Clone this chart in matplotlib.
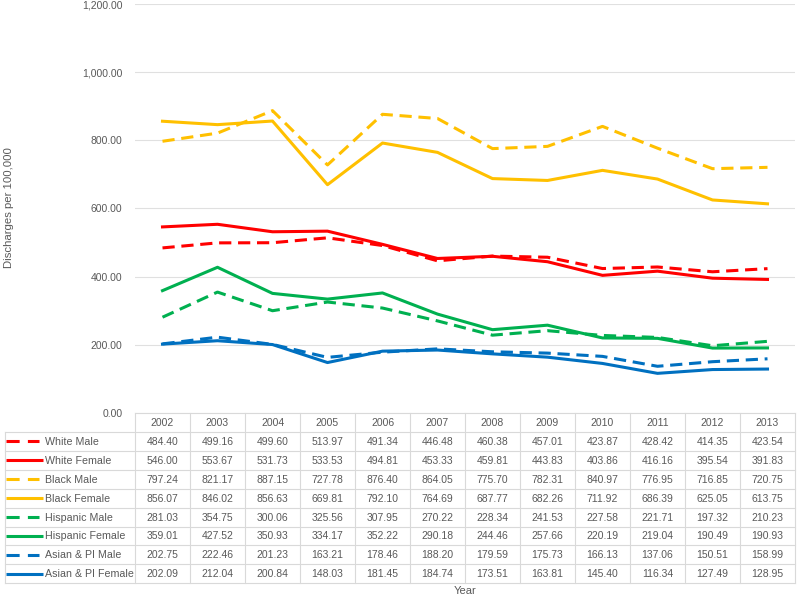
import matplotlib
matplotlib.use("Agg")
import matplotlib.pyplot as plt
from matplotlib.lines import Line2D

years = [2002, 2003, 2004, 2005, 2006, 2007, 2008, 2009, 2010, 2011, 2012, 2013]
series_names = ["White Male", "White Female", "Black Male", "Black Female",
                "Hispanic Male", "Hispanic Female", "Asian & PI Male", "Asian & PI Female"]
white_male = [484.40, 499.16, 499.60, 513.97, 491.34, 446.48, 460.38, 457.01, 423.87, 428.42, 414.35, 423.54]
white_female = [546.00, 553.67, 531.73, 533.53, 494.81, 453.33, 459.81, 443.83, 403.86, 416.16, 395.54, 391.83]
black_male = [797.24, 821.17, 887.15, 727.78, 876.40, 864.05, 775.70, 782.31, 840.97, 776.95, 716.85, 720.75]
black_female = [856.07, 846.02, 856.63, 669.81, 792.10, 764.69, 687.77, 682.26, 711.92, 686.39, 625.05, 613.75]
hispanic_male = [281.03, 354.75, 300.06, 325.56, 307.95, 270.22, 228.34, 241.53, 227.58, 221.71, 197.32, 210.23]
hispanic_female = [359.01, 427.52, 350.93, 334.17, 352.22, 290.18, 244.46, 257.66, 220.19, 219.04, 190.49, 190.93]
asian_male = [202.75, 222.46, 201.23, 163.21, 178.46, 188.20, 179.59, 175.73, 166.13, 137.06, 150.51, 158.99]
asian_female = [202.09, 212.04, 200.84, 148.03, 181.45, 184.74, 173.51, 163.81, 145.40, 116.34, 127.49, 128.95]
series_values = [white_male, white_female, black_male, black_female,
                 hispanic_male, hispanic_female, asian_male, asian_female]
colors = ["#FF0000", "#FF0000", "#FFC000", "#FFC000", "#00B050", "#00B050", "#0070C0", "#0070C0"]
dashed = [True, False, True, False, True, False, True, False]
yticks = [0, 200, 400, 600, 800, 1000, 1200]

W, H = 800, 599
TXT = "#595959"
GRID = "#D9D9D9"
FONT = "Liberation Sans"
plt.rcParams['font.family'] = [FONT, 'DejaVu Sans']

fig = plt.figure(figsize=(W / 100, H / 100), dpi=100)

# pixel geometry
ax_l, ax_r, ax_t, ax_b = 135, 795, 4, 413
ax = fig.add_axes([ax_l / W, 1 - ax_b / H, (ax_r - ax_l) / W, (ax_b - ax_t) / H])
n = len(years)
x = list(range(n))
for vals, c, d in zip(series_values, colors, dashed):
    if d:
        ax.plot(x, vals, color=c, lw=2.2, linestyle=(0, (4, 2.2)), solid_capstyle='butt', zorder=3)
    else:
        ax.plot(x, vals, color=c, lw=2.2, zorder=3)
ax.set_xlim(-0.5, n - 0.5)
ax.set_ylim(0, 1200)
ax.set_yticks(yticks)
ax.set_yticklabels([f"{v:,.2f}" for v in yticks], color=TXT, fontsize=7.5)
ax.tick_params(axis='y', length=0, pad=9)
ax.set_xticks([])
ax.grid(axis='y', color="#E0E0E0", lw=0.8)
ax.set_axisbelow(True)
for s in ax.spines.values():
    s.set_visible(False)

# table overlay in pixel coords
tax = fig.add_axes([0, 0, 1, 1])
tax.set_xlim(0, W)
tax.set_ylim(H, 0)
tax.axis('off')

tax.text(9, 208, "Discharges per 100,000", rotation=90, ha='center', va='center',
         color=TXT, fontsize=8.2)

leg_l = 5
col_w = (ax_r - ax_l) / n
hdr_t, hdr_b = 413, 432
row_h = 18.9
n_rows = len(series_names)
tbl_b = hdr_b + n_rows * row_h

lw_b = 0.8
tax.plot([ax_l, ax_r], [hdr_t, hdr_t], color=GRID, lw=lw_b)
for i in range(n + 1):
    xx = ax_l + i * col_w
    tax.plot([xx, xx], [hdr_t, tbl_b], color=GRID, lw=lw_b)
tax.plot([leg_l, leg_l], [hdr_b, tbl_b], color=GRID, lw=lw_b)
for r in range(n_rows + 1):
    yy = hdr_b + r * row_h
    tax.plot([leg_l, ax_r], [yy, yy], color=GRID, lw=lw_b)
for i, yr in enumerate(years):
    tax.text(ax_l + (i + 0.5) * col_w, (hdr_t + hdr_b) / 2 + 0.5, str(yr), ha='center', va='center',
             color=TXT, fontsize=7.5)
for r, (name, vals, c, d) in enumerate(zip(series_names, series_values, colors, dashed)):
    yc = hdr_b + (r + 0.5) * row_h
    if d:
        tax.add_line(Line2D([6, 39], [yc, yc], color=c, lw=2.2, linestyle=(0, (4.3, 2.7)),
                            solid_capstyle='butt'))
    else:
        tax.add_line(Line2D([6, 43], [yc, yc], color=c, lw=2.2, solid_capstyle='butt'))
    tax.text(45, yc + 0.5, name, ha='left', va='center', color=TXT, fontsize=7.7)
    for i, v in enumerate(vals):
        tax.text(ax_l + (i + 0.5) * col_w, yc + 0.5, f"{v:.2f}", ha='center', va='center',
                 color=TXT, fontsize=7.5)

tax.text((ax_l + ax_r) / 2, 591, "Year", ha='center', va='center', color=TXT, fontsize=8)

fig.savefig("out.png", dpi=100, facecolor='white')
